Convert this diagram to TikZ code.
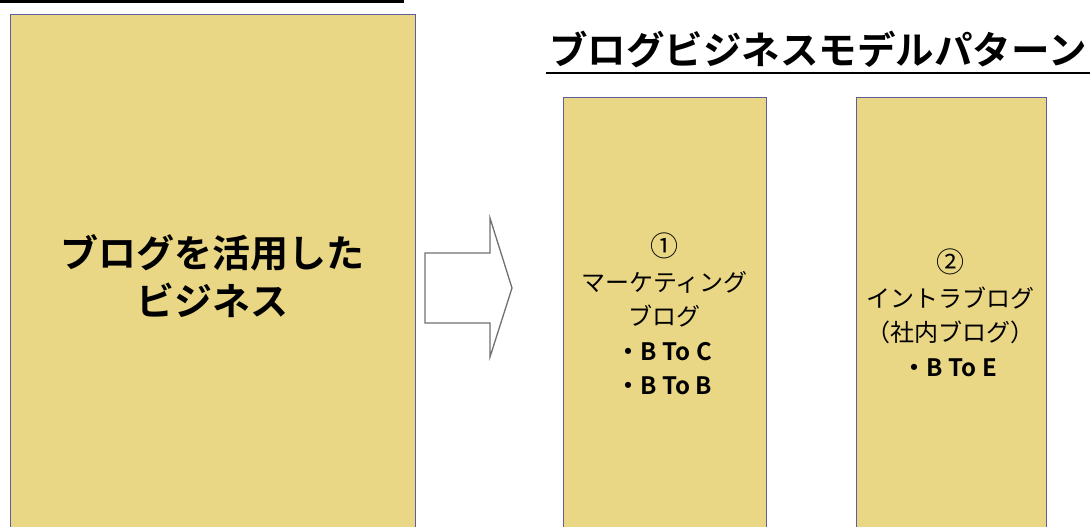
\documentclass[tikz,border=0pt]{standalone}
\usepackage{fontspec}
\newfontfamily\jpfont{Noto Sans CJK JP}
\newfontfamily\jpbold{Noto Sans CJK JP Bold}
\definecolor{boxfill}{HTML}{EAD785}
\definecolor{boxline}{HTML}{5E5E9A}
\definecolor{arrowline}{HTML}{707070}
\tikzset{
  panel/.style={draw=boxline, line width=1.1pt, fill=boxfill, inner sep=0pt},
  bigtext/.style={font=\jpbold\fontsize{38}{48}\selectfont, align=center, inner sep=0pt},
  smalltext/.style={font=\jpfont\fontsize{24}{34.5}\selectfont, align=center, inner sep=0pt},
  titletext/.style={font=\jpbold\fontsize{38.5}{44}\selectfont, inner sep=0pt}
}
\begin{document}
\begin{tikzpicture}[x=1pt,y=-1pt]
\useasboundingbox (0,0) rectangle (1092,527);
\clip (0,0) rectangle (1092,527);
% top-left rule
\fill[black] (0,0) rectangle (404,2.8);
% panels
\node[panel, minimum width=405pt, minimum height=540pt, anchor=north west] (left) at (10,14) {};
\node[panel, minimum width=203pt, minimum height=450pt, anchor=north west] (mid) at (563,97) {};
\node[panel, minimum width=190pt, minimum height=450pt, anchor=north west] (right) at (856,97) {};
% title
\node[titletext] (title) at (818,49) {ブログビジネスモデルパターン};
\draw[line width=1.3pt] (546,73) -- (1090,73);
% block arrow
\draw[arrowline, line width=1.3pt, fill=white, line join=miter]
  (425,253) -- (490,253) -- (490,218) -- (512,288) -- (490,357) -- (490,323) -- (425,323) -- cycle;
% texts
\node[bigtext] (lefttext) at (212,276) {ブログを活用した\\ビジネス};
\node[smalltext] (midtext) at (664.5,314) {{\fontsize{28}{34.5}\selectfont ①}\\マーケティング\\ブログ\\{\jpbold ・B To C}\\{\jpbold ・B To B}};
\node[smalltext] (righttext) at (950,313) {{\fontsize{28}{34.5}\selectfont ②}\\イントラブログ\\（社内ブログ）\\{\jpbold ・B To E}};
\end{tikzpicture}
\end{document}
